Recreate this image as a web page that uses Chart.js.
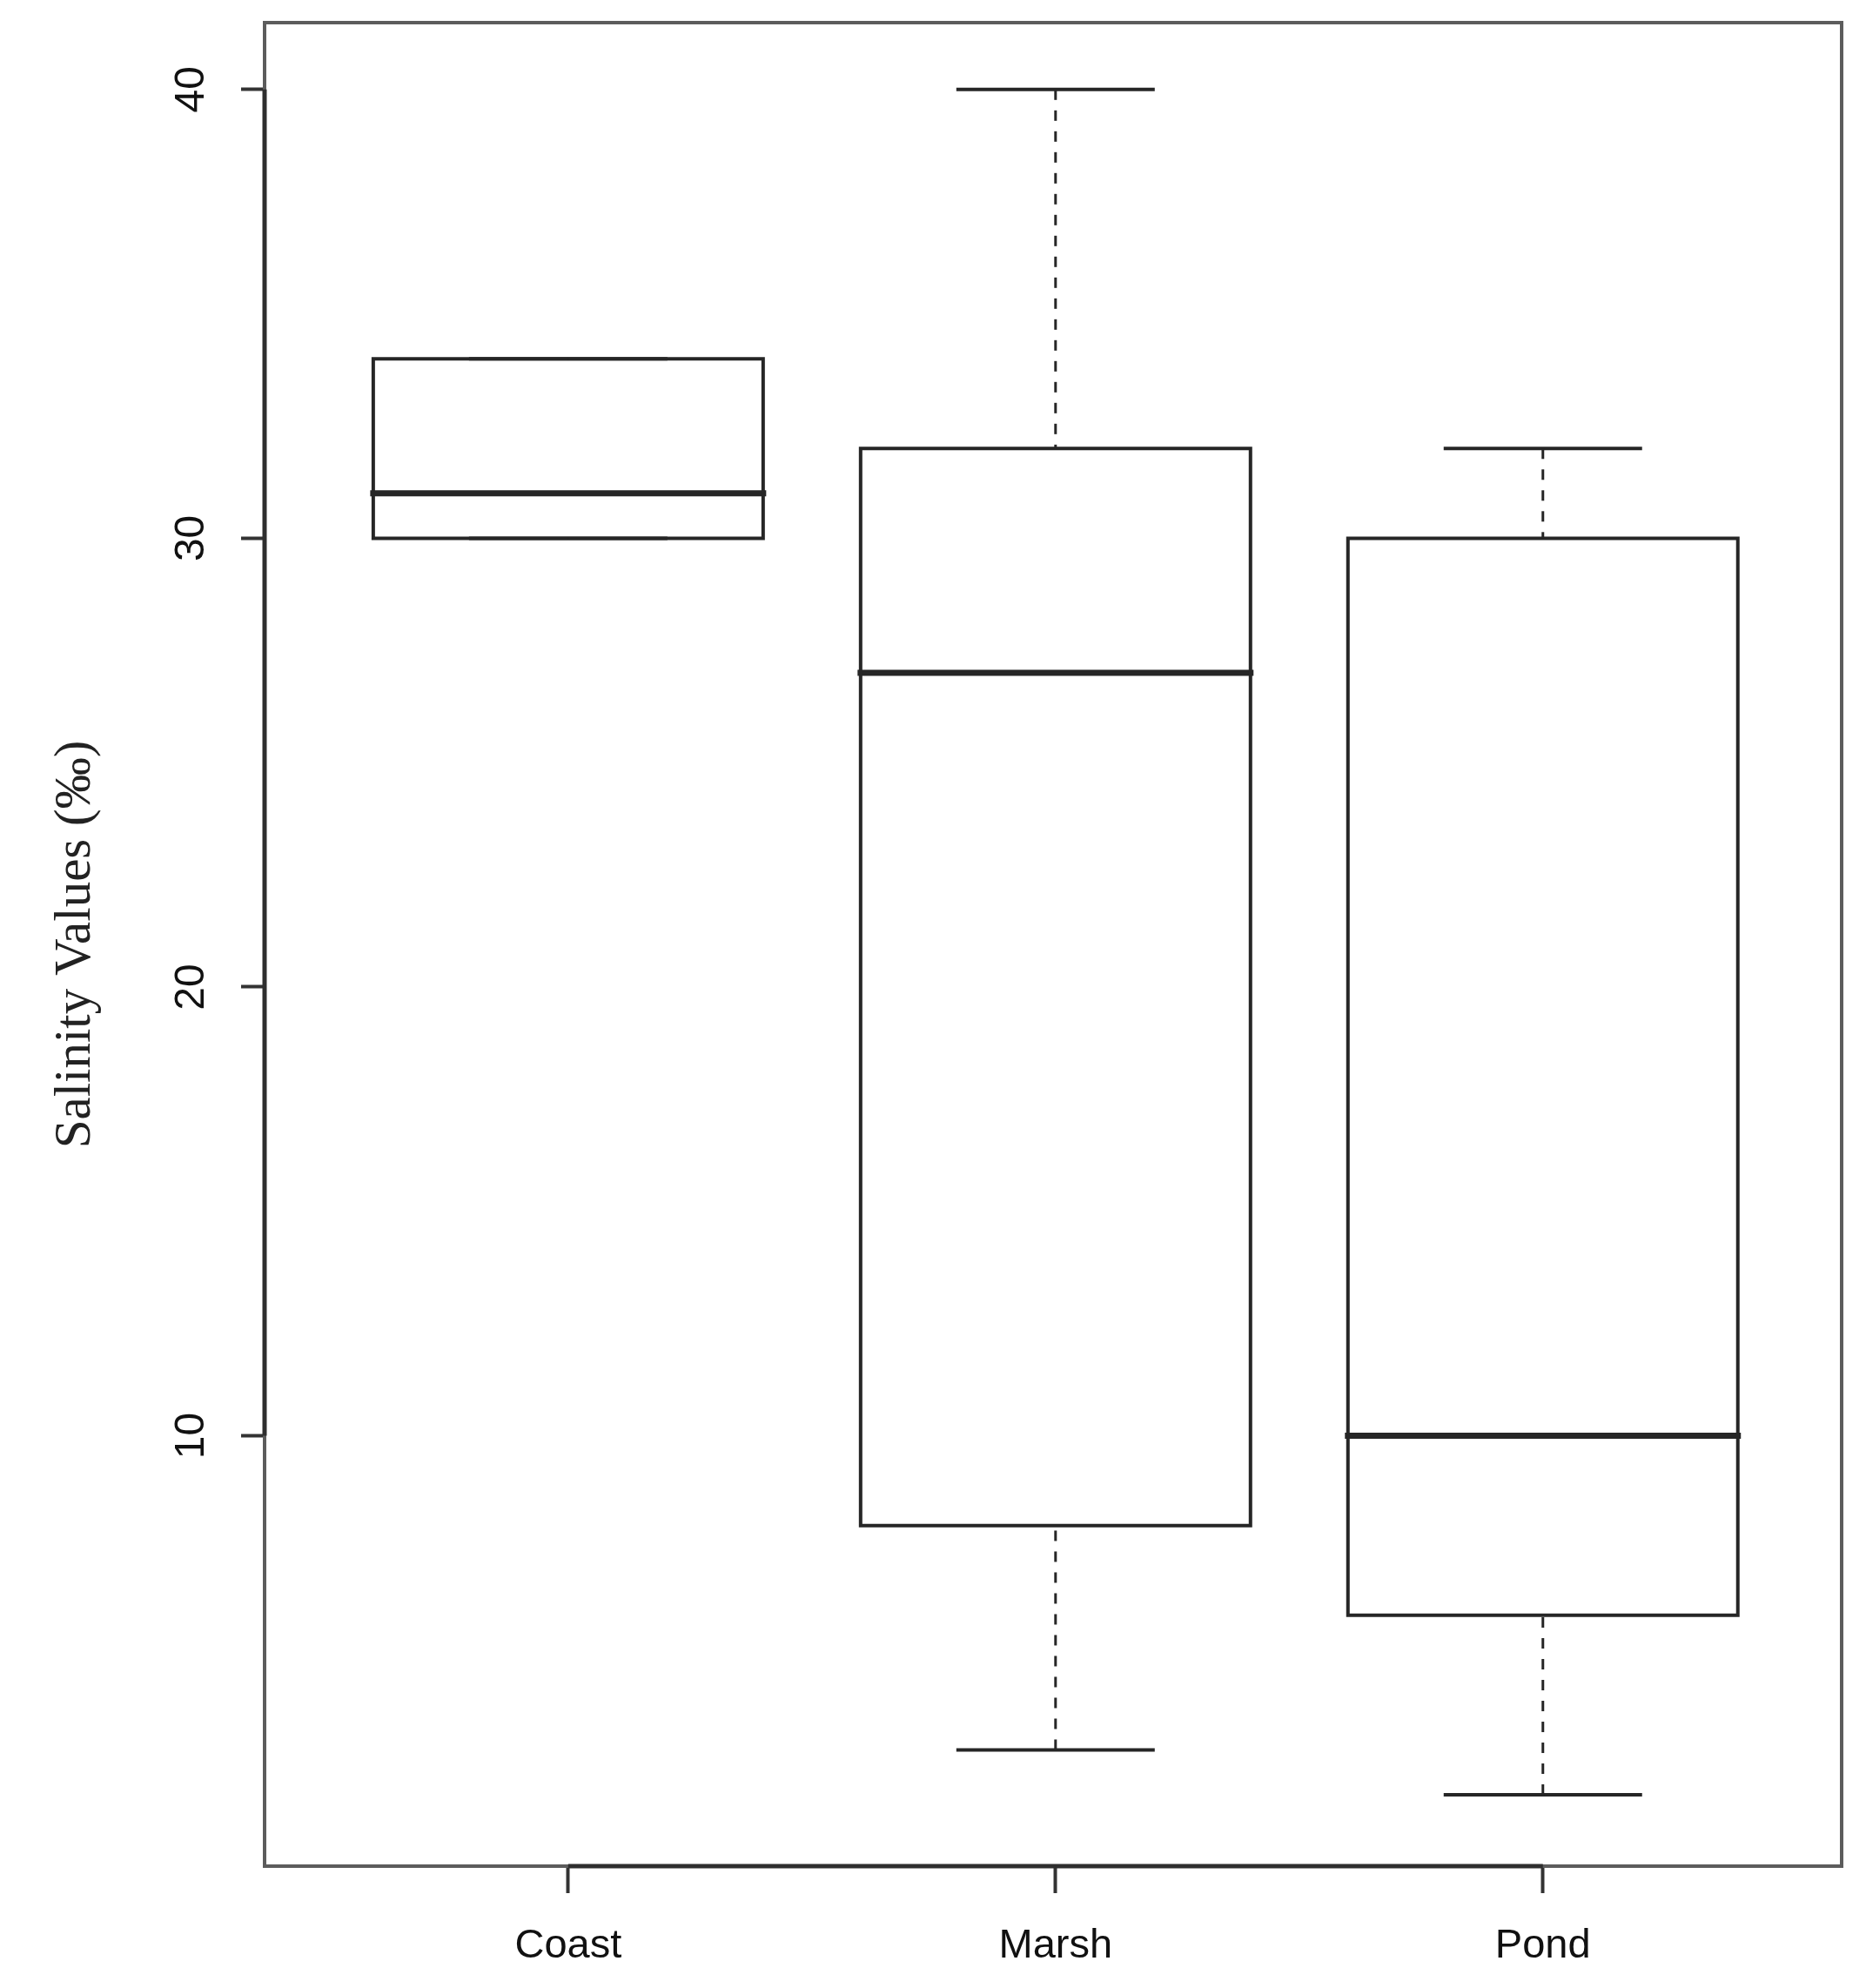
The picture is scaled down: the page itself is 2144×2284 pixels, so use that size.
<!DOCTYPE html>
<html lang="en">
<head>
<meta charset="UTF-8">
<title>Salinity Values by Habitat</title>
<script src="https://cdn.jsdelivr.net/npm/chart.js@4.4.1/dist/chart.umd.min.js"></script>
<style>
  html, body { margin: 0; padding: 0; background: #fff; }
  #wrap { width: 2144px; height: 2284px; position: relative; }
</style>
</head>
<body>
<div id="wrap"><canvas id="salinityChart"></canvas></div>
<script>
// values (five-number summaries per site)
var categories = ['Coast', 'Marsh', 'Pond'];
var whiskerLow = [30, 3, 2];
var lowerQuartile = [30, 8, 6];
var medians = [31, 27, 10];
var upperQuartile = [34, 32, 30];
var whiskerHigh = [34, 40, 32];
var yTicks = [10, 20, 30, 40];

var BOX_HALF = 0.4;   // R boxwex 0.8
var CAP_HALF = 0.2;   // R staplewex 0.5
var lineColor = '#262626';

var datasets = [];
function addLine(points, width, dash) {
    datasets.push({
        data: points,
        showLine: true,
        pointRadius: 0,
        pointHoverRadius: 0,
        borderColor: lineColor,
        borderWidth: width,
        borderDash: dash || [],
        borderCapStyle: dash ? 'butt' : 'square',
        borderJoinStyle: 'miter',
        fill: false,
        tension: 0
    });
}

categories.forEach(function (name, i) {
    var x = i + 1;
    // whiskers (dashed)
    addLine([{x: x, y: whiskerLow[i]}, {x: x, y: lowerQuartile[i]}], 3, [12, 12]);
    addLine([{x: x, y: whiskerHigh[i]}, {x: x, y: upperQuartile[i]}], 3, [12, 12]);
    // box
    addLine([
        {x: x - BOX_HALF, y: lowerQuartile[i]},
        {x: x + BOX_HALF, y: lowerQuartile[i]},
        {x: x + BOX_HALF, y: upperQuartile[i]},
        {x: x - BOX_HALF, y: upperQuartile[i]},
        {x: x - BOX_HALF, y: lowerQuartile[i]}
    ], 4);
    // median
    addLine([{x: x - BOX_HALF, y: medians[i]}, {x: x + BOX_HALF, y: medians[i]}], 7);
    // staples
    addLine([{x: x - CAP_HALF, y: whiskerLow[i]}, {x: x + CAP_HALF, y: whiskerLow[i]}], 4);
    addLine([{x: x - CAP_HALF, y: whiskerHigh[i]}, {x: x + CAP_HALF, y: whiskerHigh[i]}], 4);
});

// box around the plot region plus the darker axis lines between first and last tick
var framePlugin = {
    id: 'frame',
    afterDatasetsDraw: function (chart) {
        var a = chart.chartArea, ctx = chart.ctx;
        var xs = chart.scales.x, ys = chart.scales.y;
        ctx.save();
        ctx.strokeStyle = '#5c5c5c';
        ctx.lineWidth = 4;
        ctx.strokeRect(a.left, a.top, a.right - a.left, a.bottom - a.top);
        ctx.strokeStyle = '#2e2e2e';
        ctx.lineWidth = 5;
        ctx.beginPath();
        ctx.moveTo(xs.getPixelForValue(1), a.bottom);
        ctx.lineTo(xs.getPixelForValue(categories.length), a.bottom);
        ctx.moveTo(a.left, ys.getPixelForValue(yTicks[0]));
        ctx.lineTo(a.left, ys.getPixelForValue(yTicks[yTicks.length - 1]));
        ctx.stroke();
        ctx.restore();
    }
};

var ctx = document.getElementById('salinityChart').getContext('2d');
var salinityChart = new Chart(ctx, {
    type: 'scatter',
    data: { datasets: datasets },
    options: {
        responsive: true,
        maintainAspectRatio: false,
        animation: false,
        layout: { padding: { top: 26, right: 28, left: 0, bottom: 0 } },
        plugins: {
            legend: { display: false },
            tooltip: { enabled: false }
        },
        scales: {
            x: {
                type: 'linear',
                min: 0.377,
                max: 3.613,
                afterBuildTicks: function (scale) {
                    scale.ticks = categories.map(function (c, i) { return { value: i + 1 }; });
                },
                afterFit: function (scale) {
                    scale.height = 140;
                    scale.paddingLeft = 0;
                    scale.paddingRight = 0;
                },
                grid: { drawOnChartArea: false, drawTicks: true, tickLength: 31, tickColor: '#333', tickWidth: 4 },
                border: { display: false },
                ticks: {
                    autoSkip: false,
                    maxRotation: 0,
                    padding: 33,
                    color: '#111',
                    font: { family: 'Liberation Sans', size: 47 },
                    callback: function (value) { return categories[Math.round(value) - 1]; }
                }
            },
            y: {
                type: 'linear',
                min: 0.41,
                max: 41.49,
                afterBuildTicks: function (scale) {
                    scale.ticks = yTicks.map(function (v) { return { value: v }; });
                },
                afterFit: function (scale) {
                    scale.width = 304;
                    scale.paddingTop = 0;
                    scale.paddingBottom = 0;
                },
                grid: { drawOnChartArea: false, drawTicks: true, tickLength: 27, tickColor: '#333', tickWidth: 4 },
                border: { display: false },
                ticks: {
                    autoSkip: false,
                    minRotation: 90,
                    maxRotation: 90,
                    crossAlign: 'center',
                    padding: 30,
                    color: '#111',
                    font: { family: 'Liberation Sans', size: 48 }
                },
                title: {
                    display: true,
                    text: 'Salinity Values (‰)',
                    color: '#222',
                    font: { family: 'Liberation Serif', size: 59 },
                    padding: { top: 52, bottom: 0 }
                }
            }
        }
    },
    plugins: [framePlugin]
});
</script>
</body>
</html>
